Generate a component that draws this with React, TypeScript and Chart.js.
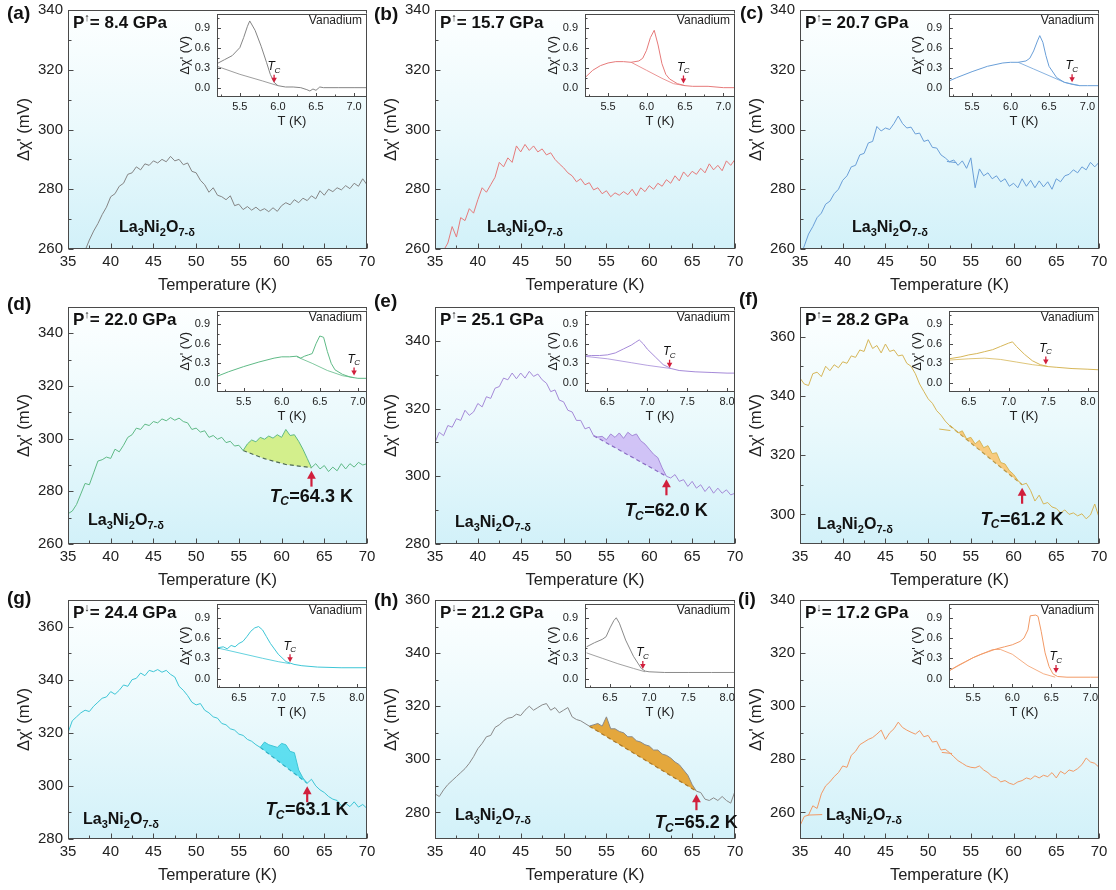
import React, { useEffect, useRef } from "react";
import { Chart, registerables } from "chart.js";

Chart.register(...registerables);

const FONT = '"Liberation Sans", Arial, Helvetica, sans-serif';

// ---------------- data ----------------
const TEMP = [35, 35.5, 36, 36.5, 37, 37.5, 38, 38.5, 39, 39.5, 40, 40.5, 41, 41.5, 42, 42.5, 43, 43.5, 44, 44.5, 45, 45.5, 46, 46.5, 47, 47.5, 48, 48.5, 49, 49.5, 50, 50.5, 51, 51.5, 52, 52.5, 53, 53.5, 54, 54.5, 55, 55.5, 56, 56.5, 57, 57.5, 58, 58.5, 59, 59.5, 60, 60.5, 61, 61.5, 62, 62.5, 63, 63.5, 64, 64.5, 65, 65.5, 66, 66.5, 67, 67.5, 68, 68.5, 69, 69.5, 70];

const X_TICKS = [35, 40, 45, 50, 55, 60, 65, 70];
const Y_TICKS_260_340 = [260, 280, 300, 320, 340];
const Y_TICKS_280_340 = [280, 300, 320, 340];
const Y_TICKS_300_360 = [300, 320, 340, 360];
const Y_TICKS_280_360 = [280, 300, 320, 340, 360];
const VAN_X_TICKS_LOW = [5.5, 6.0, 6.5, 7.0];
const VAN_X_TICKS_HIGH = [6.5, 7.0, 7.5, 8.0];
const VAN_Y_TICKS = [0, 0.3, 0.6, 0.9];

const SIG_A = [251, 253, 255, 257.5, 259.5, 263, 266, 268.5, 271.5, 274,
  277.5, 278.5, 281, 282, 285, 285.5, 287.5, 286.5, 288.5, 288,
  289.5, 288.8, 290, 289.2, 291, 289.5, 290, 288.2, 288.8, 286,
  285.5, 283, 281.5, 279, 280.5, 278, 277.5, 276.5, 277.8, 274.5,
  275, 273.2, 274.2, 273, 274, 272.8, 273.5, 272.5, 273.8, 272.6,
  274.5, 275.5, 274.8, 276.5, 275.5, 277, 276.2, 277.8, 276.8, 279.5,
  278, 280, 279.2, 280.5, 279.8, 281.2, 280.2, 282, 281, 283.5,
  281.5];
const SIG_B = [254, 256.5, 259.5, 262, 267.5, 264, 270.5, 269.5, 273.5, 272,
  276.5, 280.5, 279, 281.5, 284, 289, 287.5, 290.5, 289, 294.5,
  292.5, 295, 293, 294.5, 292.5, 293.5, 291.5, 292.2, 290, 288.5,
  287.2, 285.5, 284.5, 282.5, 283.5, 281.5, 282.2, 279.8, 280.5, 278.5,
  279.5, 277.5, 278.8, 278, 279.2, 278.2, 280, 277.8, 280.5, 279.2,
  281.2, 280, 282, 281, 283.2, 282, 284.5, 282.8, 285.8, 284.2,
  286, 285, 287, 285.5, 288.5, 286.5, 288, 286.2, 289.5, 288,
  290];
const SIG_C = [257, 261, 265, 267.5, 270.5, 272, 275, 276, 278.5, 280,
  283, 284.5, 287.5, 288, 291.5, 292, 295.5, 296, 301, 299.5,
  300.5, 300, 302, 304.5, 302, 300.5, 300.8, 298.5, 298.8, 296,
  296.5, 294, 293.8, 291.5, 290.5, 289.2, 289.8, 288, 289.5, 287,
  290.5, 280.5, 286.8, 284.5, 285.5, 283.5, 284.5, 282.5, 283.5, 281,
  282, 280.5, 283.5, 281, 283, 280.5, 282.8, 280.8, 282.5, 280,
  283.5, 282.5, 284.5, 285, 286.5, 285.5, 287.5, 286.5, 289, 287.5,
  289];
const SIG_D = [271.5, 272.5, 275, 279, 283, 282.5, 287, 291.5, 292, 293,
  292.5, 296, 295, 297.5, 300.5, 301.5, 304, 303.5, 305.5, 305,
  306.5, 306, 307.5, 306.8, 308, 307, 307.8, 306.5, 306, 303.5,
  304, 302.5, 303, 300.5, 301.2, 299.8, 300.5, 298.5, 299, 297.2,
  297.5, 295.5, 298, 299.5, 298.8, 300.5, 299.8, 301, 300.2, 301.5,
  300.5, 303.5, 301.2, 301.5, 299, 296, 292.5, 289, 290.5, 288.5,
  289.8, 287.5, 289.2, 287.8, 290.5, 288.5, 290.5, 289.2, 291, 290,
  290.5];
const SIG_E = [310, 313, 312, 315, 314.5, 317, 316.5, 319.5, 318, 319,
  321.5, 320.5, 323.5, 323, 326, 326.5, 329, 328.5, 330.5, 328.8,
  330.5, 329, 331, 329.5, 330.2, 328.5, 327.5, 325, 325.5, 322.5,
  322, 319.5, 319, 316.5, 316.5, 314, 314.5, 312, 311.6, 311.8,
  310.8, 312.5, 311.5, 312.8, 311.2, 313, 312, 312.5, 310.5, 309.5,
  308, 306.5, 305.5, 302.5, 300, 299.5, 300.5, 298.5, 299, 297,
  298.5, 296.5, 297.5, 295.5, 297, 295, 296.5, 295, 296, 294.5,
  295];
const SIG_F = [346, 344, 343.5, 347.5, 348, 346.5, 350, 348.5, 350.5, 349.5,
  351.5, 351, 353.5, 353, 355.5, 355, 359, 356, 357, 354.5,
  357.5, 355, 355.5, 353.5, 353.8, 351, 350, 347.5, 344, 341.5,
  339, 337.5, 335, 333.5, 331.5, 330, 329, 327.5, 328.2, 325.5,
  326, 323.8, 325, 322.5, 323.2, 320.5, 320.8, 317.5, 317, 314.8,
  313.5, 311.5, 310, 310.5, 308, 304.5, 306.5, 303.5, 304, 302.5,
  302, 300.5, 301.5, 300, 300.5, 299.5, 300.2, 298.5, 299.8, 303.5,
  299];
const SIG_G = [320, 324.5, 326, 327.5, 328.5, 328, 330, 331.5, 333, 333.5,
  335.5, 334.5, 336, 338, 337.5, 340, 340.5, 342.5, 341.5, 343.5,
  343, 343.8, 342.8, 343.5, 342, 341, 337.5, 336, 334, 331.5,
  330.5, 331, 328.5, 327.5, 326, 325.5, 323.5, 323, 321.5, 321,
  319.5, 319, 317.5, 316.8, 315.5, 314.5, 316.5, 315.5, 315, 314.5,
  316, 315.5, 313, 312.5, 306, 303, 301, 302.5, 300, 298.5,
  297.5, 296, 295, 294.5, 292.5, 293.5, 292.2, 294, 292, 293,
  291.5];
const SIG_H = [287, 286, 288.5, 290.5, 292, 293.5, 295, 296.5, 298.5, 301,
  304, 306, 308.5, 309, 312, 313, 314.5, 315.5, 315.8, 317,
  316.5, 318.5, 320, 318.5, 319.5, 320.5, 321, 318.5, 319.5, 317.5,
  318.5, 319.5, 316, 315, 314.5, 313.5, 312.5, 313, 313.5, 312.5,
  316, 311.5, 311.5, 310.5, 310, 308.5, 308.5, 307, 306.5, 305.5,
  305, 303.5, 303.5, 302, 301.5, 300.5, 299, 298, 296, 294,
  290.5, 288, 287.5, 285, 284.5, 285.5, 284.5, 286, 284.5, 283.5,
  288];
const SIG_I = [255, 258.5, 259, 262.5, 261.5, 267, 270, 271.5, 273.5, 275,
  277.5, 277, 281.5, 283, 285.5, 286.5, 287.5, 288.2, 289.5, 291,
  287.5, 290, 291.5, 294, 292, 291, 290.2, 289.5, 290.8, 288.5,
  289, 286.5, 286.8, 283.5, 283.8, 282.5, 281, 279.5, 278.5, 277.5,
  277, 276.8, 277.5, 276, 275, 273.5, 273, 271.5, 272, 271,
  270.5, 271.5, 272, 273, 272.5, 273.8, 273, 274, 273.5, 275,
  273, 275.5, 274.5, 276, 275.5, 276.5, 278, 280.5, 279, 278.5,
  277];

// short overlapping segments (warming/cooling joins)
const EXTRA_C = [[[52.2, 289.3], [53.3, 288.9]]];
const EXTRA_F = [[[51.3, 328.8], [52.6, 328.3]]];
const EXTRA_I = [[[35.9, 259], [37.6, 259.2]], [[51.6, 282.6], [52.8, 282.2]]];

// dashed background lines under the superconducting hump
const BASE_D_T = [55.5, 58, 60.5, 63.5];
const BASE_D_V = [295.5, 292.4, 290.2, 289];
const BASE_E_T = [53.5, 62];
const BASE_E_V = [312, 300];
const BASE_F_T = [52.5, 61];
const BASE_F_V = [330, 310];
const BASE_G_T = [57.5, 63];
const BASE_G_V = [314.5, 301];
const BASE_H_T = [53, 65.5];
const BASE_H_V = [312.5, 288];

// Vanadium insets
const VAN_A_T = [5.2, 5.3, 5.4, 5.5, 5.55, 5.6, 5.63, 5.7, 5.78, 5.85, 5.9, 5.95, 6.0, 6.1, 6.2, 6.3, 6.38, 6.42, 6.46, 6.5, 6.55, 6.6, 6.8, 7.0, 7.2];
const VAN_A_V = [0.36, 0.42, 0.48, 0.6, 0.75, 0.92, 1.0, 0.86, 0.62, 0.38, 0.2, 0.08, 0.03, 0.01, 0.01, 0.0, -0.03, -0.05, -0.02, -0.04, 0.01, 0.0, 0.0, 0.0, 0.0];
const VAN_A_T2 = [5.2, 5.5, 5.8, 6.0];
const VAN_A_V2 = [0.32, 0.2, 0.1, 0.03];

const VAN_B_T = [5.2, 5.3, 5.4, 5.5, 5.6, 5.7, 5.8, 5.9, 5.95, 6.0, 6.05, 6.1, 6.15, 6.2, 6.25, 6.3, 6.4, 6.5, 6.6, 6.8, 7.0, 7.2];
const VAN_B_V = [0.15, 0.26, 0.33, 0.37, 0.39, 0.39, 0.38, 0.4, 0.44, 0.56, 0.75, 0.86, 0.64, 0.36, 0.2, 0.13, 0.06, 0.03, 0.02, 0.02, 0.0, 0.0];
const VAN_B_T2 = [5.8, 6.0, 6.2, 6.35, 6.5];
const VAN_B_V2 = [0.38, 0.26, 0.14, 0.06, 0.03];

const VAN_C_T = [5.2, 5.3, 5.5, 5.7, 5.9, 6.0, 6.1, 6.2, 6.25, 6.3, 6.35, 6.38, 6.42, 6.46, 6.5, 6.6, 6.7, 6.8, 6.9, 7.0, 7.2];
const VAN_C_V = [0.1, 0.15, 0.24, 0.32, 0.37, 0.38, 0.38, 0.4, 0.44, 0.55, 0.7, 0.78, 0.68, 0.48, 0.32, 0.15, 0.08, 0.05, 0.03, 0.03, 0.03];
const VAN_C_T2 = [6.1, 6.3, 6.5, 6.7, 6.9];
const VAN_C_V2 = [0.38, 0.28, 0.18, 0.08, 0.03];

const VAN_D_T = [5.15, 5.3, 5.5, 5.7, 5.9, 6.0, 6.1, 6.2, 6.25, 6.3, 6.35, 6.4, 6.45, 6.5, 6.55, 6.6, 6.65, 6.7, 6.8, 6.9, 7.0, 7.15];
const VAN_D_V = [0.1, 0.17, 0.25, 0.32, 0.38, 0.4, 0.4, 0.41, 0.38, 0.41, 0.43, 0.45, 0.6, 0.72, 0.7, 0.48, 0.3, 0.2, 0.13, 0.09, 0.07, 0.07];
const VAN_D_T2 = [6.2, 6.4, 6.6, 6.8, 6.95];
const VAN_D_V2 = [0.4, 0.3, 0.19, 0.11, 0.08];

const VAN_E_T = [6.2, 6.3, 6.4, 6.5, 6.6, 6.7, 6.8, 6.85, 6.9, 6.95, 7.0, 7.1, 7.2, 7.3, 7.4, 7.6, 7.8, 8.0, 8.12];
const VAN_E_V = [0.41, 0.42, 0.42, 0.43, 0.46, 0.52, 0.58, 0.62, 0.66, 0.6, 0.52, 0.4, 0.28, 0.22, 0.19, 0.17, 0.16, 0.15, 0.15];
const VAN_E_T2 = [6.2, 6.5, 6.8, 7.0, 7.3];
const VAN_E_V2 = [0.41, 0.37, 0.31, 0.27, 0.22];

const VAN_F_T = [6.25, 6.4, 6.5, 6.6, 6.7, 6.8, 6.9, 7.0, 7.05, 7.1, 7.2, 7.3, 7.4, 7.5, 7.6, 7.8, 8.0, 8.15];
const VAN_F_V = [0.37, 0.4, 0.43, 0.45, 0.48, 0.51, 0.56, 0.61, 0.63, 0.56, 0.44, 0.34, 0.28, 0.25, 0.24, 0.22, 0.21, 0.2];
const VAN_F_T2 = [6.25, 6.5, 6.7, 6.9, 7.1, 7.3, 7.5];
const VAN_F_V2 = [0.35, 0.37, 0.38, 0.36, 0.32, 0.28, 0.25];

const VAN_G_T = [6.2, 6.3, 6.35, 6.4, 6.45, 6.5, 6.55, 6.6, 6.65, 6.7, 6.75, 6.8, 6.85, 6.9, 7.0, 7.1, 7.2, 7.3, 7.5, 7.8, 8.13];
const VAN_G_V = [0.45, 0.47, 0.44, 0.49, 0.47, 0.52, 0.55, 0.62, 0.7, 0.75, 0.77, 0.72, 0.62, 0.52, 0.36, 0.25, 0.21, 0.19, 0.17, 0.16, 0.16];
const VAN_G_T2 = [6.2, 6.5, 6.8, 7.0, 7.15];
const VAN_G_V2 = [0.46, 0.38, 0.3, 0.25, 0.22];

const VAN_H_T = [6.2, 6.3, 6.4, 6.45, 6.5, 6.55, 6.58, 6.62, 6.7, 6.8, 6.9, 6.95, 7.0, 7.2, 7.5, 7.8, 8.12];
const VAN_H_V = [0.47, 0.53, 0.58, 0.62, 0.75, 0.86, 0.9, 0.82, 0.57, 0.33, 0.15, 0.11, 0.1, 0.09, 0.09, 0.09, 0.09];
const VAN_H_T2 = [6.2, 6.4, 6.6, 6.8, 6.95];
const VAN_H_V2 = [0.38, 0.3, 0.22, 0.15, 0.1];

const VAN_I_T = [5.2, 5.3, 5.4, 5.5, 5.6, 5.7, 5.8, 5.9, 6.0, 6.1, 6.15, 6.2, 6.23, 6.3, 6.33, 6.37, 6.42, 6.47, 6.52, 6.58, 6.7, 7.0, 7.2];
const VAN_I_V = [0.12, 0.19, 0.25, 0.31, 0.36, 0.4, 0.44, 0.47, 0.5, 0.55, 0.6, 0.72, 0.93, 0.94, 0.92, 0.7, 0.38, 0.18, 0.07, 0.03, 0.02, 0.02, 0.02];
const VAN_I_T2 = [5.2, 5.5, 5.75, 5.85, 6.0, 6.2, 6.4, 6.55];
const VAN_I_V2 = [0.12, 0.31, 0.43, 0.43, 0.36, 0.19, 0.07, 0.02];

// ---------------- layout ----------------
const COL_L = [68, 435, 800];
const COL_W = [299, 300, 299];
const ROW_T = [8, 305, 598];
const ROW_H = [241, 239, 241];
const INSET_W = 150;
const INSET_H = [89, 87, 90];

type Panel = any;

const PANELS: Panel[] = [
  { key: "a", col: 0, row: 0, letter: "(a)", letterPos: [7, 14], pressure: "8.4", dir: "\u2191", color: "#858585",
    sig: SIG_A, yMin: 260, yMax: 340, yTicks: Y_TICKS_260_340, la: [51, 22.5],
    van: { t: VAN_A_T, v: VAN_A_V, t2: VAN_A_T2, v2: VAN_A_V2, tc: 5.95, tcv: 0.05, xMin: 5.2, xMax: 7.17, xTicks: VAN_X_TICKS_LOW } },
  { key: "b", col: 1, row: 0, letter: "(b)", letterPos: [374, 15], pressure: "15.7", dir: "\u2191", color: "#e67a7a",
    sig: SIG_B, yMin: 260, yMax: 340, yTicks: Y_TICKS_260_340, la: [52, 22.5],
    van: { t: VAN_B_T, v: VAN_B_V, t2: VAN_B_T2, v2: VAN_B_V2, tc: 6.48, tcv: 0.04, xMin: 5.2, xMax: 7.15, xTicks: VAN_X_TICKS_LOW } },
  { key: "c", col: 2, row: 0, letter: "(c)", letterPos: [740, 14], pressure: "20.7", dir: "\u2191", color: "#6a9fd8",
    sig: SIG_C, yMin: 260, yMax: 340, yTicks: Y_TICKS_260_340, la: [52, 22.5], extra: EXTRA_C,
    van: { t: VAN_C_T, v: VAN_C_V, t2: VAN_C_T2, v2: VAN_C_V2, tc: 6.8, tcv: 0.06, xMin: 5.2, xMax: 7.15, xTicks: VAN_X_TICKS_LOW } },
  { key: "d", col: 0, row: 1, letter: "(d)", letterPos: [7, 305], pressure: "22.0", dir: "\u2191", color: "#5fba86",
    sig: SIG_D, yMin: 260, yMax: 350, yTicks: Y_TICKS_260_340, la: [20, 24],
    baseT: BASE_D_T, baseV: BASE_D_V, fillColor: "rgba(210,238,134,0.95)", dashColor: "#4e6a56", tcLabel: "=64.3 K", tcDy: 10,
    van: { t: VAN_D_T, v: VAN_D_V, t2: VAN_D_T2, v2: VAN_D_V2, tc: 6.95, tcv: 0.09, xMin: 5.15, xMax: 7.12, xTicks: VAN_X_TICKS_LOW } },
  { key: "e", col: 1, row: 1, letter: "(e)", letterPos: [374, 302], pressure: "25.1", dir: "\u2191", color: "#a58ad8",
    sig: SIG_E, yMin: 280, yMax: 350, yTicks: Y_TICKS_280_340, la: [20, 22.5],
    baseT: BASE_E_T, baseV: BASE_E_V, fillColor: "rgba(204,186,244,0.85)", dashColor: "#8a6cc4", tcLabel: "=62.0 K", tcDy: 16,
    van: { t: VAN_E_T, v: VAN_E_V, t2: VAN_E_T2, v2: VAN_E_V2, tc: 7.28, tcv: 0.21, xMin: 6.22, xMax: 8.1, xTicks: VAN_X_TICKS_HIGH } },
  { key: "f", col: 2, row: 1, letter: "(f)", letterPos: [739, 300], pressure: "28.2", dir: "\u2191", color: "#d6b658",
    sig: SIG_F, yMin: 290, yMax: 370, yTicks: Y_TICKS_300_360, la: [17, 20.5], extra: EXTRA_F,
    baseT: BASE_F_T, baseV: BASE_F_V, fillColor: "rgba(249,200,120,0.95)", dashColor: "#b89a4a", tcLabel: "=61.2 K", tcDy: 16,
    van: { t: VAN_F_T, v: VAN_F_V, t2: VAN_F_T2, v2: VAN_F_V2, tc: 7.47, tcv: 0.26, xMin: 6.25, xMax: 8.14, xTicks: VAN_X_TICKS_HIGH } },
  { key: "g", col: 0, row: 2, letter: "(g)", letterPos: [7, 599], pressure: "24.4", dir: "\u2193", color: "#3ec6d6",
    sig: SIG_G, yMin: 280, yMax: 370, yTicks: Y_TICKS_280_360, la: [15, 20.5],
    baseT: BASE_G_T, baseV: BASE_G_V, fillColor: "rgba(80,220,238,0.9)", dashColor: "#2faec2", tcLabel: "=63.1 K", tcDy: 8,
    van: { t: VAN_G_T, v: VAN_G_V, t2: VAN_G_T2, v2: VAN_G_V2, tc: 7.15, tcv: 0.22, xMin: 6.22, xMax: 8.13, xTicks: VAN_X_TICKS_HIGH } },
  { key: "h", col: 1, row: 2, letter: "(h)", letterPos: [374, 601], pressure: "21.2", dir: "\u2193", color: "#8a8a8a",
    sig: SIG_H, yMin: 270, yMax: 360, yTicks: Y_TICKS_280_360, la: [20, 24],
    baseT: BASE_H_T, baseV: BASE_H_V, fillColor: "rgba(228,162,50,0.95)", dashColor: "#a8782a", tcLabel: "=65.2 K", tcDy: 13,
    van: { t: VAN_H_T, v: VAN_H_V, t2: VAN_H_T2, v2: VAN_H_V2, tc: 6.92, tcv: 0.12, xMin: 6.18, xMax: 8.1, xTicks: VAN_X_TICKS_HIGH } },
  { key: "i", col: 2, row: 2, letter: "(i)", letterPos: [738, 600], pressure: "17.2", dir: "\u2193", color: "#f29a66",
    sig: SIG_I, yMin: 250, yMax: 340, yTicks: Y_TICKS_260_340, la: [26, 24], extra: EXTRA_I,
    van: { t: VAN_I_T, v: VAN_I_V, t2: VAN_I_T2, v2: VAN_I_V2, tc: 6.56, tcv: 0.06, xMin: 5.19, xMax: 7.11, xTicks: VAN_X_TICKS_LOW } },
];

// ---------------- drawing helpers ----------------
function minorsOf(vals: number[], min: number, max: number) {
  const out: number[] = [];
  if (vals.length < 2) return out;
  const step = vals[1] - vals[0];
  for (let i = -1; i < vals.length; i++) {
    const m = i < 0 ? vals[0] - step / 2 : vals[i] + step / 2;
    if (m > min + 1e-9 && m < max - 1e-9) out.push(m);
  }
  return out;
}

function drawTc(ctx: CanvasRenderingContext2D, cx: number, cy: number, size: number, suffix: string, bold: boolean) {
  const w = bold ? "bold " : "";
  const fT = `italic ${w}${size}px ${FONT}`;
  const sub = Math.round(size * 0.68);
  const fC = `italic ${w}${sub}px ${FONT}`;
  const fS = `${w}${size}px ${FONT}`;
  ctx.font = fT;
  const wT = ctx.measureText("T").width;
  ctx.font = fC;
  const wC = ctx.measureText("C").width;
  ctx.font = fS;
  const wS = suffix ? ctx.measureText(suffix).width : 0;
  let x = cx - (wT + wC + wS) / 2;
  ctx.textBaseline = "middle";
  ctx.textAlign = "left";
  ctx.fillStyle = "#111";
  ctx.font = fT;
  ctx.fillText("T", x, cy);
  x += wT - size * 0.04;
  ctx.font = fC;
  ctx.fillText("C", x, cy + size * 0.3);
  x += wC + size * 0.03;
  if (suffix) {
    ctx.font = fS;
    ctx.fillText(suffix, x, cy);
  }
}

const decoPlugin = {
  id: "deco",
  beforeDraw(chart: any) {
    const o = chart.options.plugins.deco || {};
    const { ctx, chartArea: a } = chart;
    ctx.save();
    if (o.gradient) {
      const g = ctx.createLinearGradient(0, a.top, 0, a.bottom);
      g.addColorStop(0, "#fdffff");
      g.addColorStop(0.5, "#eaf9fc");
      g.addColorStop(1, "#d2f1f9");
      ctx.fillStyle = g;
    } else {
      ctx.fillStyle = "#ffffff";
    }
    ctx.fillRect(a.left, a.top, a.right - a.left, a.bottom - a.top);
    ctx.restore();
  },
  afterDraw(chart: any) {
    const o = chart.options.plugins.deco || {};
    const { ctx, chartArea: a, scales } = chart;
    const xs = scales.x;
    const ys = scales.y;
    ctx.save();
    ctx.strokeStyle = "#4a4a4a";
    ctx.lineWidth = 1;
    const L = Math.round(a.left) + 0.5;
    const R = Math.round(a.right) - 0.5;
    const T = Math.round(a.top) + 0.5;
    const B = Math.round(a.bottom) - 0.5;
    const xv = xs.ticks.map((t: any) => t.value);
    const yv = ys.ticks.map((t: any) => t.value);
    ctx.beginPath();
    for (const v of xv) {
      const px = Math.round(xs.getPixelForValue(v)) + 0.5;
      ctx.moveTo(px, B);
      ctx.lineTo(px, B - o.major);
    }
    for (const v of minorsOf(xv, xs.min, xs.max)) {
      const px = Math.round(xs.getPixelForValue(v)) + 0.5;
      ctx.moveTo(px, B);
      ctx.lineTo(px, B - o.minor);
    }
    for (const v of yv) {
      const py = Math.round(ys.getPixelForValue(v)) + 0.5;
      ctx.moveTo(L, py);
      ctx.lineTo(L + o.major, py);
    }
    for (const v of minorsOf(yv, ys.min, ys.max)) {
      const py = Math.round(ys.getPixelForValue(v)) + 0.5;
      ctx.moveTo(L, py);
      ctx.lineTo(L + o.minor, py);
    }
    ctx.stroke();
    ctx.strokeRect(L, T, R - L, B - T);

    const ar = o.arrow;
    if (ar) {
      const x = xs.getPixelForValue(ar.t);
      ctx.strokeStyle = "#d11f3c";
      ctx.fillStyle = "#d11f3c";
      ctx.lineWidth = ar.width;
      if (ar.dir === "up") {
        const tip = ys.getPixelForValue(ar.v) + 3;
        const tail = tip + ar.len;
        ctx.beginPath();
        ctx.moveTo(x, tail);
        ctx.lineTo(x, tip + ar.head * 0.8);
        ctx.stroke();
        ctx.beginPath();
        ctx.moveTo(x, tip);
        ctx.lineTo(x - ar.head * 0.55, tip + ar.head);
        ctx.lineTo(x + ar.head * 0.55, tip + ar.head);
        ctx.closePath();
        ctx.fill();
        if (ar.label) drawTc(ctx, x, tail + ar.labelDy, 18, ar.label, true);
      } else {
        const tip = ys.getPixelForValue(ar.v) - 1.5;
        const tail = tip - ar.len;
        ctx.beginPath();
        ctx.moveTo(x, tail);
        ctx.lineTo(x, tip - ar.head * 0.8);
        ctx.stroke();
        ctx.beginPath();
        ctx.moveTo(x, tip);
        ctx.lineTo(x - ar.head * 0.55, tip - ar.head);
        ctx.lineTo(x + ar.head * 0.55, tip - ar.head);
        ctx.closePath();
        ctx.fill();
        drawTc(ctx, x, tail - ar.labelDy, 12, "", false);
      }
    }
    ctx.restore();
  },
};

function toPts(ts: number[], vs: number[]) {
  return ts.map((t, i) => ({ x: t, y: vs[i] }));
}

function mainConfig(p: Panel) {
  const pts = toPts(TEMP, p.sig);
  const datasets: any[] = [];
  if (p.baseT) {
    const t0 = p.baseT[0];
    const t1 = p.baseT[p.baseT.length - 1];
    datasets.push({
      data: pts.filter((q) => q.x >= t0 - 1e-9 && q.x <= t1 + 1e-9),
      borderColor: "rgba(0,0,0,0)", borderWidth: 0, pointRadius: 0,
      backgroundColor: p.fillColor, fill: "+1", order: 3,
    });
    datasets.push({
      data: toPts(p.baseT, p.baseV), borderColor: p.dashColor, borderDash: [4, 3],
      borderWidth: 1.2, pointRadius: 0, fill: false, order: 2,
    });
  }
  datasets.push({ data: pts, borderColor: p.color, borderWidth: 1, pointRadius: 0, fill: false, order: 1 });
  (p.extra || []).forEach((seg: number[][]) => {
    datasets.push({ data: seg.map((q) => ({ x: q[0], y: q[1] })), borderColor: p.color, borderWidth: 1, pointRadius: 0, fill: false, order: 1 });
  });
  const tickFont = { family: FONT, size: 15 };
  const titleFont = { family: FONT, size: 16.5 };
  return {
    type: "line",
    data: { datasets },
    plugins: [decoPlugin],
    options: {
      responsive: false,
      animation: false,
      devicePixelRatio: 1,
      events: [],
      layout: { padding: { left: 0, top: 12, right: 14, bottom: 0 } },
      elements: { line: { tension: 0 } },
      plugins: {
        legend: { display: false },
        tooltip: { enabled: false },
        deco: {
          gradient: true, major: 5, minor: 3,
          arrow: p.baseT
            ? { t: p.baseT[p.baseT.length - 1], v: p.baseV[p.baseV.length - 1], dir: "up", len: 16, head: 8, width: 2.2, label: p.tcLabel, labelDy: p.tcDy }
            : null,
        },
      },
      scales: {
        x: {
          type: "linear", min: 35, max: 70,
          afterBuildTicks: (s: any) => { s.ticks = X_TICKS.map((v) => ({ value: v })); },
          afterFit: (s: any) => { s.height = 46; },
          ticks: { font: tickFont, color: "#222", padding: 4, maxRotation: 0, autoSkip: false },
          grid: { display: false, drawTicks: false },
          border: { display: false },
          title: { display: true, text: "Temperature (K)", font: titleFont, color: "#222", padding: { top: 0, bottom: 0 } },
        },
        y: {
          type: "linear", min: p.yMin, max: p.yMax,
          afterBuildTicks: (s: any) => { s.ticks = p.yTicks.map((v: number) => ({ value: v })); },
          afterFit: (s: any) => { s.width = 68; },
          ticks: { font: tickFont, color: "#222", padding: 5, autoSkip: false },
          grid: { display: false, drawTicks: false },
          border: { display: false },
          title: { display: true, text: "\u0394\u03c7' (mV)", font: titleFont, color: "#222", padding: { top: 15, bottom: 0 } },
        },
      },
    },
  };
}

function insetConfig(p: Panel) {
  const v = p.van;
  const datasets = [
    { data: toPts(v.t2, v.v2), borderColor: p.color, borderWidth: 0.8, pointRadius: 0, fill: false, order: 2 },
    { data: toPts(v.t, v.v), borderColor: p.color, borderWidth: 1, pointRadius: 0, fill: false, order: 1 },
  ];
  const tickFont = { family: FONT, size: 11 };
  const titleFont = { family: FONT, size: 13 };
  return {
    type: "line",
    data: { datasets },
    plugins: [decoPlugin],
    options: {
      responsive: false,
      animation: false,
      devicePixelRatio: 1,
      events: [],
      layout: { padding: { left: 0, top: 8, right: 10, bottom: 0 } },
      elements: { line: { tension: 0 } },
      plugins: {
        legend: { display: false },
        tooltip: { enabled: false },
        deco: {
          gradient: false, major: 3.5, minor: 2,
          arrow: { t: v.tc, v: v.tcv, dir: "down", len: 8, head: 5, width: 1.3, labelDy: 8 },
        },
      },
      scales: {
        x: {
          type: "linear", min: v.xMin, max: v.xMax,
          afterBuildTicks: (s: any) => { s.ticks = v.xTicks.map((q: number) => ({ value: q })); },
          afterFit: (s: any) => { s.height = 36; },
          ticks: { font: tickFont, color: "#222", padding: 3, maxRotation: 0, autoSkip: false, callback: (q: any) => Number(q).toFixed(1) },
          grid: { display: false, drawTicks: false },
          border: { display: false },
          title: { display: true, text: "T (K)", font: titleFont, color: "#222", padding: { top: 0, bottom: 3.5 } },
        },
        y: {
          type: "linear", min: -0.14, max: 1.11,
          afterBuildTicks: (s: any) => { s.ticks = VAN_Y_TICKS.map((q) => ({ value: q })); },
          afterFit: (s: any) => { s.width = 48; },
          ticks: { font: tickFont, color: "#222", padding: 7, autoSkip: false, callback: (q: any) => Number(q).toFixed(1) },
          grid: { display: false, drawTicks: false },
          border: { display: false },
          title: { display: true, text: "\u0394\u03c7' (V)", font: titleFont, color: "#222", padding: { top: 8.5, bottom: 0 } },
        },
      },
    },
  };
}

function ChartCanvas({ config, left, top, width, height }: any) {
  const ref = useRef<HTMLCanvasElement | null>(null);
  useEffect(() => {
    const chart = new Chart(ref.current as HTMLCanvasElement, config);
    return () => chart.destroy();
  }, []);
  return (
    <canvas
      ref={ref}
      width={width}
      height={height}
      style={{ position: "absolute", left, top, width, height }}
    />
  );
}

const subStyle: any = { fontSize: 11, position: "relative", top: 4, verticalAlign: "baseline", lineHeight: 1 };

function PanelView({ p }: { p: Panel }) {
  const L = COL_L[p.col];
  const W = COL_W[p.col];
  const T = ROW_T[p.row];
  const H = ROW_H[p.row];
  const iH = INSET_H[p.row];
  const iL = L + W - INSET_W;
  const iT = T;
  return (
    <>
      <ChartCanvas config={mainConfig(p)} left={L - 68} top={T - 12} width={68 + W + 14} height={12 + H + 46} />
      <ChartCanvas config={insetConfig(p)} left={iL - 48} top={iT - 8} width={48 + INSET_W + 10} height={8 + iH + 36} />
      <div style={{ position: "absolute", left: p.letterPos[0], top: p.letterPos[1] - 11.2, font: `bold 19px ${FONT}`, lineHeight: 1, whiteSpace: "nowrap", color: "#111" }}>
        {p.letter}
      </div>
      <div style={{ position: "absolute", left: L + 5, top: T + 14.5 - 8.3, font: `bold 17px ${FONT}`, lineHeight: 1, whiteSpace: "nowrap", color: "#111" }}>
        P<span style={{ fontSize: 11, position: "relative", top: -7, verticalAlign: "baseline" }}>{p.dir}</span>= {p.pressure} GPa
      </div>
      <div style={{ position: "absolute", left: L + p.la[0], top: T + H - p.la[1] - 7.8, font: `bold 16px ${FONT}`, lineHeight: 1, whiteSpace: "nowrap", color: "#111" }}>
        La<span style={subStyle}>3</span>Ni<span style={subStyle}>2</span>O<span style={subStyle}>7-&delta;</span>
      </div>
      <div style={{ position: "absolute", left: iL + INSET_W - 5, top: iT + 6.2, transform: "translateX(-100%)", font: `12px ${FONT}`, lineHeight: 1, whiteSpace: "nowrap", color: "#222" }}>
        Vanadium
      </div>
    </>
  );
}

export default function App() {
  return (
    <div style={{ position: "absolute", left: 0, top: 0, width: 1116, height: 890, background: "#ffffff", overflow: "hidden" }}>
      {PANELS.map((p) => (
        <PanelView key={p.key} p={p} />
      ))}
    </div>
  );
}
